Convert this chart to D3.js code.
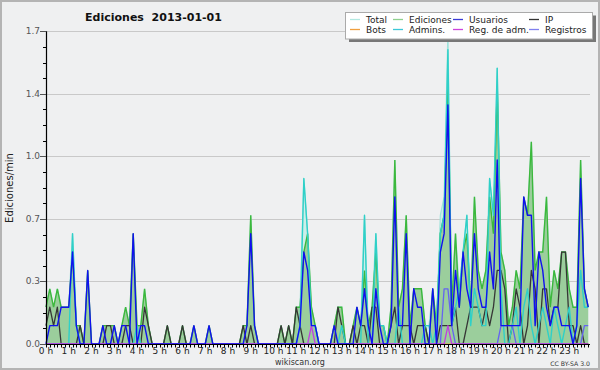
<!DOCTYPE html>
<html><head><meta charset="utf-8">
<script src="https://cdn.jsdelivr.net/npm/d3@7"></script>
<style>body{margin:0;background:#eff0f1}svg{display:block}text{font-family:"DejaVu Sans",sans-serif}</style>
</head><body>
<svg id="c" width="600" height="370"></svg>
<script>
// edits per 10-minute bucket (144 buckets, 00:00 .. 23:50)
const bucketMinutes = 10;
const total = [2,3,2,3,2,2, 2,6,1,1,0,4, 0,0,0,1,1,1, 1,0,1,2,1,6, 1,1,3,1,0,0, 0,0,1,0,0,0,
  1,0,0,1,0,0, 0,1,0,0,0,0, 0,0,0,0,1,1, 7,1,0,0,0,0, 0,0,1,0,1,0, 2,2,9,6,2,1,
  0,0,0,0,1,2, 2,0,0,1,2,1, 7,1,2,6,1,1, 0,2,10,2,3,7, 1,3,3,3,1,1, 3,1,7,8,17,2,
  6,3,5,7,2,8, 4,3,4,9,7,15, 5,4,1,2,4,3, 8,7,11,4,5,5, 8,2,4,3,5,5, 3,2,2,10,3,2];
const ediciones = [2,3,2,3,2,2, 2,5,1,1,0,4, 0,0,0,1,1,1, 1,0,1,2,1,6, 1,1,3,1,0,0, 0,0,1,0,0,0,
  1,0,0,1,0,0, 0,1,0,0,0,0, 0,0,0,0,1,1, 7,1,0,0,0,0, 0,0,1,0,1,0, 2,2,5,6,2,1,
  0,0,0,0,1,2, 2,0,0,1,2,1, 4,1,2,5,1,1, 0,2,10,2,3,7, 1,3,3,3,1,0, 3,1,6,7,14,2,
  6,2,5,6,2,8, 4,3,4,8,6,14, 5,4,1,2,4,3, 8,7,11,4,5,5, 8,2,4,3,5,5, 3,2,2,10,3,2];
const usuarios = [0,1,1,1,2,2, 2,5,1,0,0,4, 0,0,0,1,0,0, 1,0,1,1,0,6, 0,1,1,0,0,0, 0,0,0,0,0,0,
  0,0,0,1,0,0, 0,1,0,0,0,0, 0,0,0,0,0,1, 6,1,0,0,0,0, 0,0,0,0,0,0, 0,1,5,4,1,1,
  0,0,0,0,1,0, 0,0,0,0,2,1, 3,1,0,3,1,0, 0,1,8,1,1,6, 0,3,2,2,0,0, 3,0,5,6,13,1,
  4,2,5,3,2,6, 3,2,2,5,3,10, 1,1,1,1,1,1, 8,7,7,1,5,4, 2,1,2,2,1,1, 1,0,1,9,3,2];
const ip = [1,2,1,2,0,0, 0,0,0,1,0,0, 0,0,0,0,1,1, 0,0,0,1,1,0, 0,0,2,1,0,0, 0,0,1,0,0,0,
  1,0,0,0,0,0, 0,0,0,0,0,0, 0,0,0,0,1,0, 1,0,0,0,0,0, 0,0,1,0,1,0, 2,1,0,0,0,0,
  0,0,0,0,0,2, 1,0,0,1,0,1, 1,0,2,2,0,0, 0,1,2,0,1,1, 1,0,1,1,1,0, 0,0,1,1,1,1,
  2,0,0,1,2,2, 2,1,2,1,2,4, 4,3,0,1,3,2, 0,1,4,3,0,3, 3,1,2,2,5,5, 1,1,0,1,0,0];
const bots = [0,0,0,0,0,0, 0,0,0,0,0,0, 0,0,0,0,0,0, 0,0,0,0,0,0, 0,0,0,0,0,0, 0,0,0,0,0,0,
  0,0,0,0,0,0, 0,0,0,0,0,0, 0,0,0,0,0,0, 0,0,0,0,0,0, 0,0,0,0,0,0, 0,0,0,0,0,0,
  0,0,0,0,0,0, 0,0,0,0,0,0, 0,0,0,0,0,0, 0,0,0,0,0,0, 0,0,0,0,0,0, 0,0,0,0,0,0,
  0,0,0,0,0,0, 0,0,0,0,0,0, 0,0,0,0,0,0, 0,0,0,0,0,0, 0,0,0,0,0,0, 0,0,0,0,0,0];
const admins = [0,0,0,0,0,0, 0,6,1,0,0,0, 0,0,0,0,0,0, 0,0,0,0,0,0, 1,0,0,0,0,0, 0,0,0,0,0,0,
  0,0,0,0,0,0, 0,0,0,0,0,0, 0,0,0,0,0,0, 0,0,0,0,0,0, 0,0,0,0,0,0, 0,1,9,6,1,1,
  0,0,0,0,0,0, 1,0,0,0,0,0, 7,0,0,6,1,1, 0,0,0,2,0,0, 0,0,0,0,1,1, 0,1,6,7,16,1,
  2,3,5,7,1,3, 2,1,1,9,7,15, 3,0,0,1,2,0, 2,3,1,0,1,2, 1,0,2,1,0,1, 2,0,1,4,2,2];
const regAdm = [0,0,0,0,0,0, 0,0,0,0,0,0, 0,0,0,0,0,0, 0,0,0,0,0,0, 0,0,0,0,0,0, 0,0,0,0,0,0,
  0,0,0,0,0,0, 0,0,0,0,0,0, 0,0,0,0,0,0, 0,0,0,0,0,0, 0,0,0,0,0,0, 0,0,0,0,1,0,
  0,0,0,0,0,0, 0,0,0,0,0,0, 0,0,0,0,0,0, 0,0,0,0,0,0, 0,0,0,0,0,0, 0,0,0,0,1,0,
  0,0,0,0,0,0, 0,0,0,0,0,0, 0,0,0,0,0,0, 0,0,0,0,0,0, 0,0,0,0,0,0, 0,0,0,0,0,0];
const registros = [0,0,0,0,0,0, 0,0,0,0,0,0, 0,0,0,0,0,0, 0,0,0,0,0,0, 0,0,0,0,0,0, 0,0,0,0,0,0,
  0,0,0,0,0,0, 0,0,0,0,0,0, 0,0,0,0,0,0, 0,0,0,0,0,0, 0,0,0,0,0,0, 0,0,0,0,0,0,
  0,0,0,0,0,0, 0,0,0,0,0,0, 0,0,0,0,0,0, 0,0,0,0,0,0, 0,0,0,0,0,0, 0,0,0,3,3,1,
  0,0,0,0,0,0, 0,0,0,0,0,0, 1,1,1,1,0,0, 0,0,0,0,0,0, 0,0,0,0,0,0, 0,0,0,0,1,1];
const hourLabels = ["0 h","1 h","2 h","3 h","4 h","5 h","6 h","7 h","8 h","9 h","10 h","11 h",
  "12 h","13 h","14 h","15 h","16 h","17 h","18 h","19 h","20 h","21 h","22 h","23 h"];
const yTickValues = [0, 0.34, 0.68, 1.02, 1.36, 1.7];
const yTickLabels = ["0.0","0.3","0.7","1.0","1.4","1.7"];
const legendNames = ["Total","Ediciones","Usuarios","IP","Bots","Admins.","Reg. de adm.","Registros"];
const legendColors = ["#b2e8e1","#8fd08f","#3a3ad6","#333333","#f0a040","#3cc8d8","#cc44dd","#8080ee"];

const svg = d3.select("#c");
const W = 600, H = 370;
const X0 = 46, X1 = 590, Y0 = 344, Y1 = 31.3;
svg.append("rect").attr("x",1).attr("y",1).attr("width",W-2).attr("height",H-2)
  .attr("fill","#eff0f1").attr("stroke","#b4b4b4").attr("stroke-width",2);

const x = d3.scaleLinear().domain([0,1440]).range([X0, X0 + 24*22.75]);
const y = d3.scaleLinear().domain([0,1.7]).range([Y0, Y1]);
const rate = v => v / bucketMinutes; // edits per minute
const xi = (d,i) => x(i*bucketMinutes);

// grid
svg.append("g").selectAll("line").data(yTickValues.slice(1)).join("line")
  .attr("x1",X0).attr("x2",X1).attr("y1",d=>Math.round(y(d))+0.5).attr("y2",d=>Math.round(y(d))+0.5)
  .attr("stroke","#c9c9c9").attr("stroke-width",1);

const g = svg.append("g");
const area = d3.area().x(xi).y0(Y0).y1(d=>y(rate(d)));
const line = d3.line().x(xi).y(d=>y(rate(d)));

g.append("path").datum(total).attr("d",area).attr("fill","#cdeee9");
g.append("path").datum(total).attr("d",line).attr("fill","none").attr("stroke","#9fe3db").attr("stroke-width",1.2);
g.append("path").datum(ediciones).attr("d",area).attr("fill","#98cb98").attr("fill-opacity",0.95);
g.append("path").datum(ediciones).attr("d",line).attr("fill","none").attr("stroke","#3cb83c").attr("stroke-width",1.4);
const lines = [
  [bots,"#f0a040",1.2],
  [ip,"#363636",1.3],
  [admins,"#2fd0c8",1.4],
  [registros,"#6464f0",1.3],
  [regAdm,"#c040e0",1.3],
  [usuarios,"#1010f0",1.4]
];
lines.forEach(([data,col,w])=>{
  g.append("path").datum(data).attr("d",line).attr("fill","none").attr("stroke",col)
    .attr("stroke-width",w).attr("stroke-linejoin","round");
});

// axes
svg.append("line").attr("x1",X0+0.5).attr("x2",X0+0.5).attr("y1",Y1).attr("y2",Y0+0.5).attr("stroke","#000").attr("stroke-width",1.2);
svg.append("line").attr("x1",X0).attr("x2",X1).attr("y1",Y0+0.5).attr("y2",Y0+0.5).attr("stroke","#000").attr("stroke-width",1.2);
const minor = d3.range(0,1.7001,0.085);
svg.append("g").selectAll("line").data(minor).join("line")
  .attr("x1",X0-3).attr("x2",X0).attr("y1",d=>Math.round(y(d))+0.5).attr("y2",d=>Math.round(y(d))+0.5)
  .attr("stroke","#000");
svg.append("g").selectAll("line").data(yTickValues).join("line")
  .attr("x1",X0-6).attr("x2",X0).attr("y1",d=>Math.round(y(d))+0.5).attr("y2",d=>Math.round(y(d))+0.5)
  .attr("stroke","#555");
svg.append("g").selectAll("text").data(yTickValues).join("text")
  .attr("x",40).attr("y",d=>y(d)+3).attr("text-anchor","end").attr("font-size",9).attr("fill","#555")
  .text((d,i)=>yTickLabels[i]);

svg.append("g").selectAll("line").data(d3.range(0,1440,bucketMinutes)).join("line")
  .attr("x1",d=>Math.round(x(d))+0.5).attr("x2",d=>Math.round(x(d))+0.5).attr("y1",Y0).attr("y2",Y0+3.5)
  .attr("stroke","#000");
svg.append("g").selectAll("text").data(hourLabels).join("text")
  .attr("x",(d,i)=>x(i*60)).attr("y",354).attr("text-anchor","middle").attr("font-size",9).attr("fill","#222")
  .text(d=>d);

// titles
svg.append("text").attr("x",153.5).attr("y",21).attr("text-anchor","middle").attr("font-size",11)
  .attr("font-weight","bold").attr("fill","#111").style("white-space","pre").text("Ediciones  2013-01-01");
svg.append("text").attr("transform","translate(13,188) rotate(-90)").attr("text-anchor","middle")
  .attr("font-family","DejaVu Sans Mono").attr("font-size",10).attr("fill","#222").text("Ediciones/min");
svg.append("text").attr("x",300).attr("y",365).attr("text-anchor","middle").attr("font-size",8).attr("fill","#333").text("wikiscan.org");
svg.append("text").attr("x",590).attr("y",366).attr("text-anchor","end").attr("font-size",6.2).attr("fill","#333").text("CC BY-SA 3.0");

// legend
const lg = svg.append("g");
lg.append("rect").attr("x",349).attr("y",15.5).attr("width",247).attr("height",26.5).attr("fill","#777");
lg.append("rect").attr("x",345.5).attr("y",12.5).attr("width",247).attr("height",26.5).attr("fill","#fff").attr("stroke","#aaa");
const colX = [350,393,453,529];
legendNames.forEach((n,i)=>{
  const c = i%4, r = Math.floor(i/4);
  const cy = 19.5 + r*10;
  lg.append("line").attr("x1",colX[c]).attr("x2",colX[c]+10).attr("y1",cy).attr("y2",cy)
    .attr("stroke",legendColors[i]).attr("stroke-width",1.3);
  lg.append("text").attr("x",colX[c]+16).attr("y",cy+3.3).attr("font-size",9).attr("fill","#222").text(n);
});
</script>
</body></html>
